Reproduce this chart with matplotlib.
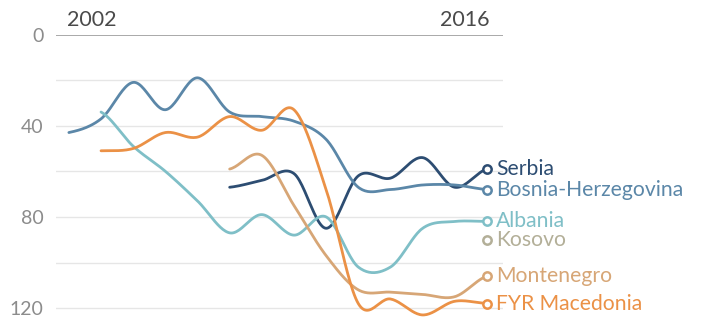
import numpy as np
import matplotlib
matplotlib.use("Agg")
import matplotlib.pyplot as plt

plt.rcParams["font.family"] = ["Lato", "DejaVu Sans"]

# Press freedom rank by edition (lower = freer); NaN where no rank is given
editions = ["2002", "2003", "2004", "2005", "2006", "2007", "2008", "2009",
            "2010", "2012", "2013", "2014", "2015", "2016"]
nan = np.nan
serbia = [nan, nan, nan, nan, nan, 67, 64, 61, 85, 62, 63, 54, 67, 59]
bosnia = [43, 37, 21, 33, 19, 34, 36, 38, 46, 67, 68, 66, 66, 68]
albania = [nan, 34, 49, 60, 73, 87, 79, 88, 80, 102, 102, 85, 82, 82]
kosovo = [nan, nan, nan, nan, nan, nan, nan, nan, nan, nan, nan, nan, nan, 90]
montenegro = [nan, nan, nan, nan, nan, 59, 53, 75, 97, 112, 113, 114, 115, 106]
macedonia = [nan, 51, 50, 43, 45, 36, 42, 33, 68, 118, 116, 123, 117, 118]

names = ["Serbia", "Bosnia-Herzegovina", "Albania", "Kosovo", "Montenegro", "FYR Macedonia"]
series = [serbia, bosnia, albania, kosovo, montenegro, macedonia]
colors = ["#2d4d72", "#5b87a8", "#7fbfc7", "#b3af98", "#d7a676", "#eb9146"]


def catmull_rom(xs, ys, steps=24):
    """Cubic Hermite curve through the points with central-difference tangents."""
    xs = np.asarray(xs, float)
    ys = np.asarray(ys, float)
    n = len(ys)
    if n < 2:
        return xs, ys
    m = np.empty(n)
    m[1:-1] = (ys[2:] - ys[:-2]) / 2.0
    m[0] = (ys[1] - ys[0]) / 2.0
    m[-1] = (ys[-1] - ys[-2]) / 2.0
    out_x, out_y = [], []
    t = np.linspace(0, 1, steps, endpoint=False)
    h00 = 2 * t**3 - 3 * t**2 + 1
    h10 = t**3 - 2 * t**2 + t
    h01 = -2 * t**3 + 3 * t**2
    h11 = t**3 - t**2
    for i in range(n - 1):
        out_x.append(xs[i] + t * (xs[i + 1] - xs[i]))
        out_y.append(h00 * ys[i] + h10 * m[i] + h01 * ys[i + 1] + h11 * m[i + 1])
    out_x.append([xs[-1]])
    out_y.append([ys[-1]])
    return np.concatenate(out_x), np.concatenate(out_y)


fig = plt.figure(figsize=(7.02, 3.32), dpi=100)
ax = fig.add_axes([56 / 702, 12.5 / 332, 447 / 702, 285 / 332])

idx = np.arange(len(editions))
for name, vals, col in zip(names, series, colors):
    vals = np.asarray(vals, float)
    ok = ~np.isnan(vals)
    xs, ys = idx[ok], vals[ok]
    if len(xs) > 1:
        cx, cy = catmull_rom(xs, ys)
        ax.plot(cx, cy, color=col, lw=2.0, solid_capstyle="round", zorder=3)
    ax.plot(xs[-1], ys[-1], "o", ms=6, mfc="white", mec=col, mew=1.8, zorder=4)
    ax.annotate(name, (xs[-1], ys[-1]), xytext=(6.5, 0), textcoords="offset points",
                va="center", ha="left", color=col, fontsize=15.2,
                annotation_clip=False)

for v in range(20, 121, 20):
    ax.axhline(v, color="#e6e6e6", lw=1.0, zorder=0)
ax.axhline(0, color="#a3a3a3", lw=1.3, zorder=1)

ax.set_xlim(-0.4, 13.5)
ax.set_ylim(125, 0)
ax.set_yticks([0, 40, 80, 120])
ax.set_xticks([])
ax.tick_params(axis="y", length=0, pad=9, labelsize=14, labelcolor="#8c8c8c")
for s in ax.spines.values():
    s.set_visible(False)

ax.annotate(editions[0], (0, 0), xytext=(-1.5, 3.5), textcoords="offset points",
            ha="left", va="bottom", fontsize=15.5, color="#4a4a4a", annotation_clip=False)
ax.annotate(editions[-1], (len(editions) - 1, 0), xytext=(2, 3.5), textcoords="offset points",
            ha="right", va="bottom", fontsize=15.5, color="#4a4a4a", annotation_clip=False)

fig.savefig("out.png", dpi=100, facecolor="white")
